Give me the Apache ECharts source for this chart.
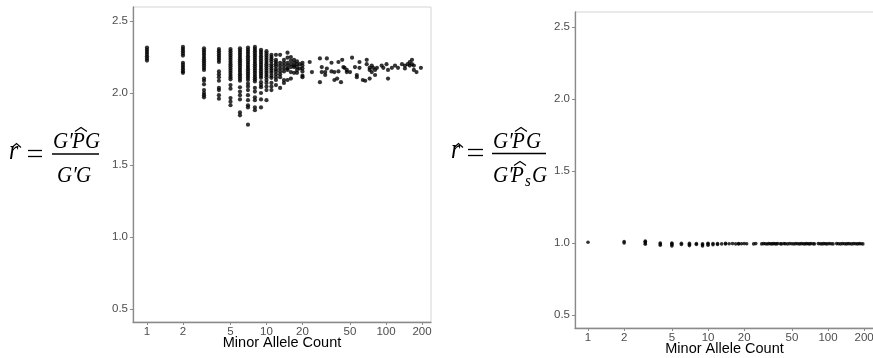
<!DOCTYPE html>
<html>
<head>
<meta charset="utf-8">
<script src="https://cdn.jsdelivr.net/npm/echarts@6/dist/echarts.min.js"></script>
<style>
html,body{margin:0;padding:0;background:#fff;}
#chart{width:873px;height:358px;}
</style>
</head>
<body>
<div id="chart"></div>
<script>
// ---- data ----
const xTitle = 'Minor Allele Count';
const xTicks = [1, 2, 5, 10, 20, 50, 100, 200];
const yTicks = [0.5, 1.0, 1.5, 2.0, 2.5];

// left panel: r = G'PG / G'G
const leftCounts = [1, 2, 3, 4, 5, 6, 7, 8, 9, 10, 11, 12, 13, 14, 15, 16, 17, 18, 19, 20,
  23, 24, 28, 29, 31, 32, 35, 37, 39, 40, 42, 43, 44, 45, 47, 50, 52, 55, 57, 60,
  64, 67, 69, 73, 76, 78, 81, 84, 92, 95, 101, 104, 112, 119, 126, 136, 144, 152, 158, 165, 171, 180, 196];
const leftValues = [
  [2.315, 2.30, 2.285, 2.27, 2.255, 2.24, 2.225],
  [2.32, 2.305, 2.29, 2.275, 2.26, 2.21, 2.195, 2.18, 2.165, 2.15, 2.14],
  [2.31, 2.295, 2.28, 2.265, 2.25, 2.235, 2.22, 2.205, 2.19, 2.175, 2.16, 2.10, 2.085, 2.06, 2.02, 2.00, 1.985, 1.97],
  [2.305, 2.29, 2.275, 2.26, 2.245, 2.23, 2.215, 2.15, 2.13, 2.11, 2.085, 2.035, 2.02, 1.985, 1.96],
  [2.305, 2.29, 2.275, 2.26, 2.245, 2.23, 2.215, 2.20, 2.185, 2.17, 2.155, 2.14, 2.125, 2.11, 2.095, 2.055, 2.03, 1.965, 1.94, 1.915],
  [2.31, 2.295, 2.28, 2.265, 2.25, 2.235, 2.22, 2.205, 2.19, 2.175, 2.16, 2.145, 2.13, 2.115, 2.10, 2.085, 2.04, 2.01, 1.985, 1.955, 1.865, 1.845],
  [2.315, 2.30, 2.285, 2.27, 2.255, 2.24, 2.225, 2.21, 2.195, 2.18, 2.165, 2.15, 2.135, 2.12, 2.105, 2.09, 2.065, 2.045, 2.02, 1.985, 1.95, 1.915, 1.90, 1.78],
  [2.32, 2.305, 2.29, 2.275, 2.26, 2.245, 2.23, 2.215, 2.20, 2.185, 2.17, 2.155, 2.14, 2.125, 2.11, 2.095, 2.08, 2.035, 2.01, 1.97, 1.95, 1.90, 1.88],
  [2.30, 2.285, 2.27, 2.255, 2.24, 2.225, 2.21, 2.195, 2.18, 2.165, 2.15, 2.135, 2.12, 2.105, 2.075, 2.055, 2.04, 2.00, 1.955, 1.90],
  [2.29, 2.275, 2.26, 2.245, 2.23, 2.215, 2.20, 2.185, 2.17, 2.155, 2.14, 2.125, 2.11, 2.09, 2.07, 2.045, 2.02, 1.95],
  [2.265, 2.25, 2.235, 2.22, 2.20, 2.185, 2.17, 2.155, 2.14, 2.12, 2.105, 2.07, 2.045, 2.02],
  [2.265, 2.23, 2.215, 2.20, 2.185, 2.165, 2.15, 2.13, 2.11, 2.09, 2.055],
  [2.265, 2.21, 2.19, 2.17, 2.15, 2.13, 2.11, 2.035],
  [2.23, 2.21, 2.19, 2.17, 2.15, 2.09, 2.07],
  [2.28, 2.245, 2.21, 2.19, 2.17, 2.16, 2.09],
  [2.25, 2.225, 2.20, 2.18, 2.145, 2.10],
  [2.23, 2.21, 2.19, 2.18, 2.14],
  [2.22, 2.20, 2.18, 2.16, 2.14],
  [2.20, 2.17],
  [2.21, 2.19, 2.17, 2.15, 2.12, 2.11],
  [2.215], [2.145], [2.24, 2.075], [2.18, 2.145], [2.145, 2.125], [2.24, 2.17], [2.21, 2.15], [2.145, 2.09],
  [2.10], [2.215, 2.15], [2.075], [2.23], [2.18], [2.175], [2.16, 2.145], [2.145], [2.245], [2.18],
  [2.125, 2.11], [2.215, 2.175], [2.09], [2.085], [2.23, 2.20], [2.175, 2.16, 2.10], [2.19, 2.145], [2.175],
  [2.16, 2.125], [2.175], [2.19], [2.175], [2.20], [2.16, 2.10], [2.175], [2.19], [2.175], [2.20],
  [2.19, 2.17], [2.20], [2.215, 2.19], [2.23, 2.20], [2.19, 2.16], [2.145], [2.175]
];

// right panel: r = G'PG / G'PsG
const rightCounts = [1, 2, 3, 4, 5, 6, 7, 8, 9, 10, 11, 12, 13, 14, 15, 16, 17, 18, 19, 20, 21, 24, 25,
  28, 29, 30, 31, 32, 33, 34, 35, 36, 37, 38, 40, 41, 43, 44, 46, 48, 50, 52, 54, 56, 58, 60, 62, 64, 66,
  68, 70, 72, 75, 77, 83, 86, 89, 92, 95, 98, 102, 106, 110, 118, 122, 127, 132, 137, 142, 147, 152, 158,
  164, 170, 176, 182, 188, 195];
const rightValues = [
  [1.005], [1.0, 1.01], [0.992, 1.0, 1.008, 1.013], [0.985, 0.993, 1.0], [0.98, 0.988, 0.995, 1.0],
  [0.99, 0.998], [0.982, 0.99, 0.998], [0.99, 0.997], [0.98, 0.988, 0.995], [0.985, 0.993, 0.998],
  [0.988, 0.996], [0.99, 0.997], [0.994], [0.993, 0.998], [0.995], [0.996], [0.994], [0.993, 0.997],
  [0.995], [0.996], [0.995], [0.994], [0.996],
  [0.994], [0.996], [0.995], [0.993], [0.996], [0.995], [0.994], [0.996], [0.995], [0.994], [0.996],
  [0.995], [0.994], [0.996], [0.995], [0.994], [0.996], [0.995], [0.994], [0.996], [0.995], [0.994],
  [0.996], [0.995], [0.994], [0.996], [0.995], [0.994], [0.996], [0.995], [0.994], [0.996], [0.995],
  [0.994], [0.996], [0.995], [0.994], [0.996], [0.995], [0.994], [0.996], [0.995], [0.994], [0.996],
  [0.995], [0.994], [0.996], [0.995], [0.994], [0.996], [0.995], [0.994], [0.996], [0.995], [0.994]
];

// ---- chart ----
function toPairs(counts, values) {
  const out = [];
  counts.forEach((c, i) => values[i].forEach(v => out.push([c, v])));
  return out;
}

const sans = '"Liberation Sans", Arial, Helvetica, sans-serif';
const serifItalic = 'italic 21px "Liberation Serif", "DejaVu Serif", serif';
const axisGray = '#8a8a8a';
const labelGray = '#4d4d4d';

function xAxisCfg(gridIndex, min, max) {
  return {
    type: 'log', logBase: 10, gridIndex, min, max,
    name: xTitle, nameLocation: 'middle', nameGap: 13, nameMoveOverlap: false,
    nameTextStyle: { color: '#000', fontSize: 14.5, fontFamily: sans },
    axisLine: { show: true, lineStyle: { color: axisGray, width: 1.3 } },
    axisTick: { show: true, length: 3, customValues: xTicks, lineStyle: { color: axisGray } },
    axisLabel: { customValues: xTicks, margin: 4, color: labelGray, fontSize: 11.5, fontFamily: sans,
      formatter: v => String(Math.round(v)) },
    splitLine: { show: false }, minorTick: { show: false }, minorSplitLine: { show: false }
  };
}
function yAxisCfg(gridIndex, min, max) {
  return {
    type: 'value', gridIndex, min, max,
    axisLine: { show: true, lineStyle: { color: axisGray, width: 1.3 } },
    axisTick: { show: true, length: 3, customValues: yTicks, lineStyle: { color: axisGray } },
    axisLabel: { customValues: yTicks, margin: 5, color: labelGray, fontSize: 11.5, fontFamily: sans,
      formatter: v => Number(v).toFixed(1) },
    splitLine: { show: false }
  };
}

function t(text, x, y, font) {
  return { type: 'text', x, y, z: 10, scaleY: 1.1,
    style: { text, font: font || serifItalic, fill: '#000', textAlign: 'left', textVerticalAlign: 'middle' } };
}
function ln(x1, y1, x2, y2, w) {
  return { type: 'line', z: 10, shape: { x1, y1, x2, y2 }, style: { stroke: '#000', lineWidth: w || 1.3 } };
}
function hat(x1, x2, yb, yt) {
  return { type: 'polyline', z: 10, shape: { points: [[x1, yb], [(x1 + x2) / 2, yt], [x2, yb]] },
    style: { stroke: '#000', lineWidth: 1.1, fill: null } };
}
const rFont = 'italic 24px "Liberation Serif", "DejaVu Serif", serif';

const formulaLeft = [
  t('r', 9, 152, rFont), hat(12, 21, 147.5, 143.5),
  ln(28, 150.5, 42, 150.5), ln(28, 156.5, 42, 156.5),
  ln(52, 154, 99, 154),
  t('G\u2032', 53, 141.5), t('P', 72, 141.5), hat(75, 87, 131.5, 127.5), t('G', 85, 141.5),
  t('G\u2032', 57, 176), t('G', 76, 176)
];
const formulaRight = [
  t('r', 451, 151, rFont), hat(454, 463, 147.5, 143.5),
  ln(468, 149.5, 483, 149.5), ln(468, 155.5, 483, 155.5),
  ln(492, 153.5, 546, 153.5),
  t('G\u2032', 493, 141.5), t('P', 512, 141.5), hat(515, 527, 131.5, 127.5), t('G', 526, 141.5),
  t('G\u2032', 493, 175.5), t('P', 511, 175.5), hat(514, 526, 165.5, 161.5),
  t('s', 525, 181.5, 'italic 15px "Liberation Serif", "DejaVu Serif", serif'), t('G', 532, 175.5)
];

const chart = echarts.init(document.getElementById('chart'), null, { renderer: 'canvas' });
chart.setOption({
  animation: false,
  backgroundColor: '#ffffff',
  grid: [
    { left: 133, top: 7, width: 298, height: 315, show: true, borderColor: '#d4d4d4', borderWidth: 1,
      backgroundColor: '#fff', containLabel: false, outerBoundsMode: 'none' },
    { left: 575, top: 12, width: 299, height: 316, show: true, borderColor: '#d4d4d4', borderWidth: 1,
      backgroundColor: '#fff', containLabel: false, outerBoundsMode: 'none' }
  ],
  xAxis: [xAxisCfg(0, 0.764, 238), xAxisCfg(1, 0.779, 241.6)],
  yAxis: [yAxisCfg(0, 0.41, 2.597), yAxisCfg(1, 0.41, 2.604)],
  series: [
    { type: 'scatter', xAxisIndex: 0, yAxisIndex: 0, symbolSize: 4.2, itemStyle: { color: '#000' },
      silent: true, data: toPairs(leftCounts, leftValues) },
    { type: 'scatter', xAxisIndex: 1, yAxisIndex: 1, symbolSize: 3.6, itemStyle: { color: '#000' },
      silent: true, data: toPairs(rightCounts, rightValues) }
  ],
  graphic: { elements: formulaLeft.concat(formulaRight) }
});
</script>
</body>
</html>
